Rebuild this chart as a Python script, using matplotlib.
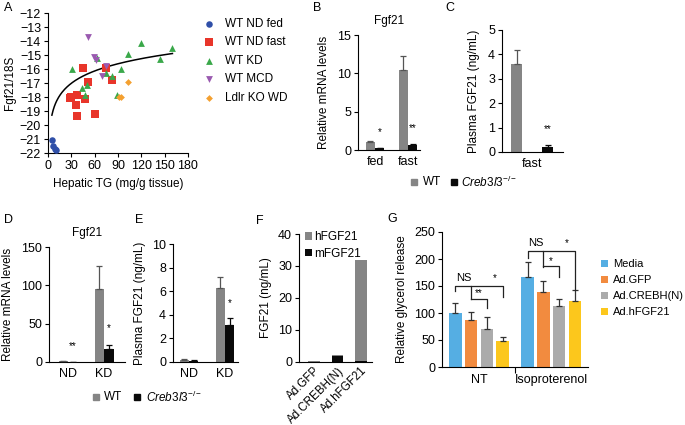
import numpy as np
import matplotlib
matplotlib.use("Agg")
import matplotlib.pyplot as plt
from matplotlib.patches import Rectangle

plt.rcParams['font.family'] = ['Liberation Sans', 'DejaVu Sans']
plt.rcParams['font.size'] = 8.5
plt.rcParams['mathtext.fontset'] = 'custom'
plt.rcParams['mathtext.it'] = 'Liberation Sans:italic'
plt.rcParams['mathtext.rm'] = 'Liberation Sans'
plt.rcParams['axes.linewidth'] = 0.8

FS = 8.5      # axis labels / titles
TFS = 9       # tick labels

# ---------------- data ----------------
# Panel A scatter
a_fed_x = [5, 6, 9, 10]
a_fed_y = [-21.1, -21.5, -21.7, -21.75]
a_fast_x = [28, 30, 37, 35.5, 37, 45, 48, 52, 61, 75, 82]
a_fast_y = [-18.07, -18.0, -17.88, -18.6, -19.38, -15.93, -18.14, -16.95, -19.2, -15.93, -16.8]
a_kd_x = [31, 44, 48, 50.5, 63.5, 74, 82, 88.5, 94, 103, 120, 143.5, 160]
a_kd_y = [-15.98, -17.36, -17.83, -17.12, -15.21, -16.29, -16.52, -17.83, -16.0, -14.93, -14.17, -15.29, -14.5]
a_mcd_x = [51.5, 58.5, 62, 70, 74]
a_mcd_y = [-13.71, -15.14, -15.33, -16.48, -15.81]
a_wd_x = [103, 91, 93.5]
a_wd_y = [-16.95, -18.0, -18.0]
a_labels = ['WT ND fed', 'WT ND fast', 'WT KD', 'WT MCD', 'Ldlr KO WD']
# trend curve as drawn: y = FIT_A + FIT_B * ln(x), x in [FIT_X0, FIT_X1]
FIT_A, FIT_B = -21.34, 1.27
FIT_X0, FIT_X1 = 5, 160

# Panel B
b_cats = ['fed', 'fast']
b_wt = [1.0, 10.5]
b_wt_err = [0.2, 1.8]
b_ko = [0.2, 0.6]
b_ko_err = [0.1, 0.2]
b_stars = ['*', '**']
b_star_y = [2.35, 2.9]

# Panel C
c_cats = ['fast']
c_wt = [3.6]
c_wt_err = [0.6]
c_ko = [0.22]
c_ko_err = [0.05]
c_stars = ['**']
c_star_y = [0.94]

# Panel D
d_cats = ['ND', 'KD']
d_wt = [1.0, 95]
d_wt_err = [0.3, 30]
d_ko = [0.3, 17]
d_ko_err = [0.1, 5]
d_stars = ['**', '*']
d_star_y = [21, 44]

# Panel E
e_cats = ['ND', 'KD']
e_wt = [0.2, 6.3]
e_wt_err = [0.05, 0.9]
e_ko = [0.1, 3.15]
e_ko_err = [0.03, 0.6]
e_stars = ['', '*']
e_star_y = [0, 5.0]

# Panel F
f_cats = ['Ad.GFP', 'Ad.CREBH(N)', 'Ad.hFGF21']
f_m = [0.15, 1.9, 0.3]
f_h = [0.2, 0.15, 31.6]

# Panel G
g_cats = ['NT', 'Isoproterenol']
g_series = ['Media', 'Ad.GFP', 'Ad.CREBH(N)', 'Ad.hFGF21']
g_vals = [[100, 167], [87, 139], [70, 113], [48, 122]]
g_errs = [[18, 27], [15, 20], [22, 13], [8, 21]]

# ---------------- layout helpers ----------------
W, H = 685, 425
fig = plt.figure(figsize=(W / 100, H / 100), dpi=100)


def ax_px(l, t, r, b):
    return fig.add_axes([l / W, 1 - b / H, (r - l) / W, (b - t) / H])


def ftext(x, y, s, **kw):
    fig.text(x / W, 1 - y / H, s, **kw)


def style(ax):
    for s in ['top', 'right']:
        ax.spines[s].set_visible(False)
    ax.tick_params(axis='y', direction='out', length=3, width=0.8, pad=2, labelsize=TFS)
    ax.tick_params(axis='x', length=0, pad=4, labelsize=TFS)


GRAY = '#858585'
BLACK = '#0a0a0a'

# ---------------- Panel A ----------------
axA = ax_px(48, 13, 188, 153)
style(axA)
axA.tick_params(axis='x', length=3, width=0.8, pad=2)
cols = ['#2f4fa8', '#e8352a', '#3aa84a', '#9a5ab0', '#f4a030']
marks = ['o', 's', '^', 'v', 'D']
sizes = [22, 30, 24, 24, 12]
for xs, ys, c, m, s, lab in zip([a_fed_x, a_fast_x, a_kd_x, a_mcd_x, a_wd_x],
                                [a_fed_y, a_fast_y, a_kd_y, a_mcd_y, a_wd_y],
                                cols, marks, sizes, a_labels):
    axA.scatter(xs, ys, c=c, marker=m, s=s, linewidths=0, label=lab, zorder=3)
xf = np.linspace(FIT_X0, FIT_X1, 200)
axA.plot(xf, FIT_A + FIT_B * np.log(xf), color='black', lw=1.1, zorder=2)
axA.set_xlim(0, 180)
axA.set_ylim(-22, -12)
axA.set_xticks(range(0, 181, 30))
axA.set_yticks(range(-22, -11))
axA.set_xlabel('Hepatic TG (mg/g tissue)', fontsize=FS, labelpad=4)
axA.set_ylabel('Fgf21/18S', fontsize=FS, labelpad=3)
axA.legend(loc='upper left', bbox_to_anchor=(1.03, 1.0), frameon=False, fontsize=8.5,
           handletextpad=0.4, labelspacing=0.55, markerscale=1.0, borderaxespad=0)
ftext(4, 8, 'A', fontsize=9, va='center')


# ---------------- generic paired bars ----------------
def paired(ax, wt, wte, ko, koe, off, width):
    x = np.arange(len(wt))
    ax.bar(x - off, wt, width, color=GRAY, zorder=2)
    ax.bar(x + off, ko, width, color=BLACK, zorder=2)
    ax.errorbar(x - off, wt, yerr=[np.zeros(len(wt)), wte], fmt='none', ecolor='#555555',
                elinewidth=0.9, capsize=2.5, capthick=0.9, zorder=3)
    ax.errorbar(x + off, ko, yerr=[np.zeros(len(ko)), koe], fmt='none', ecolor=BLACK,
                elinewidth=0.9, capsize=2.5, capthick=0.9, zorder=3)
    return x


# Panel B
axB = ax_px(358, 35, 420, 150)
style(axB)
x = paired(axB, b_wt, b_wt_err, b_ko, b_ko_err, 0.14, 0.27)
for xi, s, yy in zip(x, b_stars, b_star_y):
    axB.text(xi + 0.14, yy, s, ha='center', va='center', fontsize=7)
axB.set_xlim(-0.515, 1.36)
axB.set_ylim(0, 15)
axB.set_yticks([0, 5, 10, 15])
axB.set_xticks(x)
axB.set_xticklabels(b_cats)
axB.set_ylabel('Relative mRNA levels', fontsize=FS, labelpad=5)
axB.set_title('Fgf21', fontsize=FS, pad=8)
ftext(313, 8, 'B', fontsize=9, va='center')

# Panel C
axC = ax_px(502, 30, 563, 152)
style(axC)
x = paired(axC, c_wt, c_wt_err, c_ko, c_ko_err, 0.5, 0.37)
for xi, s, yy in zip(x, c_stars, c_star_y):
    axC.text(xi + 0.5, yy, s, ha='center', va='center', fontsize=7)
axC.set_xlim(-0.97, 1.0)
axC.set_ylim(0, 5)
axC.set_yticks(range(0, 6))
axC.set_xticks(x)
axC.set_xticklabels(c_cats)
axC.set_ylabel('Plasma FGF21 (ng/mL)', fontsize=FS, labelpad=6)
ftext(445, 8, 'C', fontsize=9, va='center')

# legend B/C
fig.patches.append(Rectangle((411 / W, 1 - 185 / H), 6 / W, 6 / H, color=GRAY, transform=fig.transFigure))
ftext(423, 182, 'WT', fontsize=FS, va='center')
fig.patches.append(Rectangle((451 / W, 1 - 185 / H), 6 / W, 6 / H, color=BLACK, transform=fig.transFigure))
ftext(461, 182, r'$\mathit{Creb3l3}^{-/-}$', fontsize=FS, va='center')

# Panel D
axD = ax_px(49, 247, 125, 362)
style(axD)
x = paired(axD, d_wt, d_wt_err, d_ko, d_ko_err, 0.135, 0.26)
for xi, s, yy in zip(x, d_stars, d_star_y):
    axD.text(xi + 0.135, yy, s, ha='center', va='center', fontsize=7)
axD.set_xlim(-0.53, 1.58)
axD.set_ylim(0, 150)
axD.set_yticks([0, 50, 100, 150])
axD.set_xticks(x)
axD.set_xticklabels(d_cats)
axD.set_ylabel('Relative mRNA levels', fontsize=FS, labelpad=5)
axD.set_title('Fgf21', fontsize=FS, pad=8)
ftext(4, 220, 'D', fontsize=9, va='center')

# Panel E
axE = ax_px(173, 244, 238, 362)
style(axE)
x = paired(axE, e_wt, e_wt_err, e_ko, e_ko_err, 0.13, 0.26)
for xi, s, yy in zip(x, e_stars, e_star_y):
    if s:
        axE.text(xi + 0.13, yy, s, ha='center', va='center', fontsize=7)
axE.set_xlim(-0.44, 1.36)
axE.set_ylim(0, 10)
axE.set_yticks(range(0, 11, 2))
axE.set_xticks(x)
axE.set_xticklabels(e_cats)
axE.set_ylabel('Plasma FGF21 (ng/mL)', fontsize=FS, labelpad=4)
ftext(135, 220, 'E', fontsize=9, va='center')

# legend D/E
fig.patches.append(Rectangle((93 / W, 1 - 400 / H), 6 / W, 6 / H, color=GRAY, transform=fig.transFigure))
ftext(104, 397, 'WT', fontsize=FS, va='center')
fig.patches.append(Rectangle((134 / W, 1 - 400 / H), 6 / W, 6 / H, color=BLACK, transform=fig.transFigure))
ftext(146, 397, r'$\mathit{Creb3l3}^{-/-}$', fontsize=FS, va='center')

# Panel F
axF = ax_px(299, 234, 372, 362)
style(axF)
xf_ = np.arange(len(f_cats))
axF.bar(xf_, f_m, 0.5, color=BLACK, label='mFGF21', zorder=2)
axF.bar(xf_, f_h, 0.5, bottom=f_m, color=GRAY, label='hFGF21', zorder=2)
axF.set_xlim(-0.64, 2.47)
axF.set_ylim(0, 40)
axF.set_yticks(range(0, 41, 10))
axF.set_xticks(xf_)
axF.set_xticklabels(f_cats, rotation=45, ha='right', rotation_mode='anchor', fontsize=8.3)
axF.tick_params(axis='x', pad=2)
axF.set_ylabel('FGF21 (ng/mL)', fontsize=FS, labelpad=4)
h, l = axF.get_legend_handles_labels()
axF.legend(h[::-1], l[::-1], loc='upper left', bbox_to_anchor=(0.02, 1.06), frameon=False,
           fontsize=FS, handlelength=0.6, handleheight=0.6, handletextpad=0.15,
           labelspacing=0.4, borderaxespad=0)
ftext(256, 221, 'F', fontsize=9, va='center')

# Panel G
axG = ax_px(442, 232, 588, 367)
style(axG)
gcols = ['#55aee3', '#f28b3f', '#ababab', '#fcc71c']
xg = np.arange(len(g_cats))
offs = [-0.327, -0.109, 0.109, 0.327]
for i in range(4):
    axG.bar(xg + offs[i], g_vals[i], 0.172, color=gcols[i], label=g_series[i], zorder=2)
    axG.errorbar(xg + offs[i], g_vals[i], yerr=[np.zeros(2), g_errs[i]], fmt='none',
                 ecolor='#333333', elinewidth=0.9, capsize=2.5, capthick=0.9, zorder=3)
axG.set_xlim(-0.514, 1.51)
axG.set_ylim(0, 250)
axG.set_yticks(range(0, 251, 50))
axG.set_xticks(xg)
axG.set_xticklabels(g_cats)
axG.set_xticks([0.5], minor=True)
axG.tick_params(axis='x', which='minor', length=4, width=0.8, direction='out')
axG.tick_params(axis='x', pad=5)
axG.set_ylabel('Relative glycerol release', fontsize=FS, labelpad=4)
fig.legend(*axG.get_legend_handles_labels(), loc='upper left',
           bbox_to_anchor=(601 / W, 1 - 259 / H), frameon=False, fontsize=8,
           handlelength=0.6, handleheight=0.6, handletextpad=0.5, labelspacing=0.55,
           borderaxespad=0, borderpad=0)
ftext(387, 219, 'G', fontsize=9, va='center')


def bracket(ax, x1, x2, y, d1, d2, text, ty, tx=None, lw=0.9):
    ax.plot([x1, x1, x2, x2], [y - d1, y, y, y - d2], color='#222222', lw=lw, zorder=4,
            clip_on=False)
    if text:
        ax.text((x1 + x2) / 2 if tx is None else tx, ty, text, ha='center', va='center',
                fontsize=8 if text == 'NS' else 7, zorder=4)


# NT group brackets
bracket(axG, offs[0], offs[1], 150, 9, 24, 'NS', 164)
bracket(axG, offs[1], offs[3], 150, 0, 20, '*', 165, tx=0.22)
bracket(axG, offs[1], offs[2], 126, 0, 17, '**', 136)
# Isoproterenol brackets
bracket(axG, 1 + offs[0], 1 + offs[1], 215, 13, 30, 'NS', 229)
bracket(axG, 1 + offs[1], 1 + offs[3], 215, 0, 72, '*', 230, tx=1.22)
bracket(axG, 1 + offs[1], 1 + offs[2], 187, 0, 20, '*', 197)

fig.savefig('out.png', dpi=100)
